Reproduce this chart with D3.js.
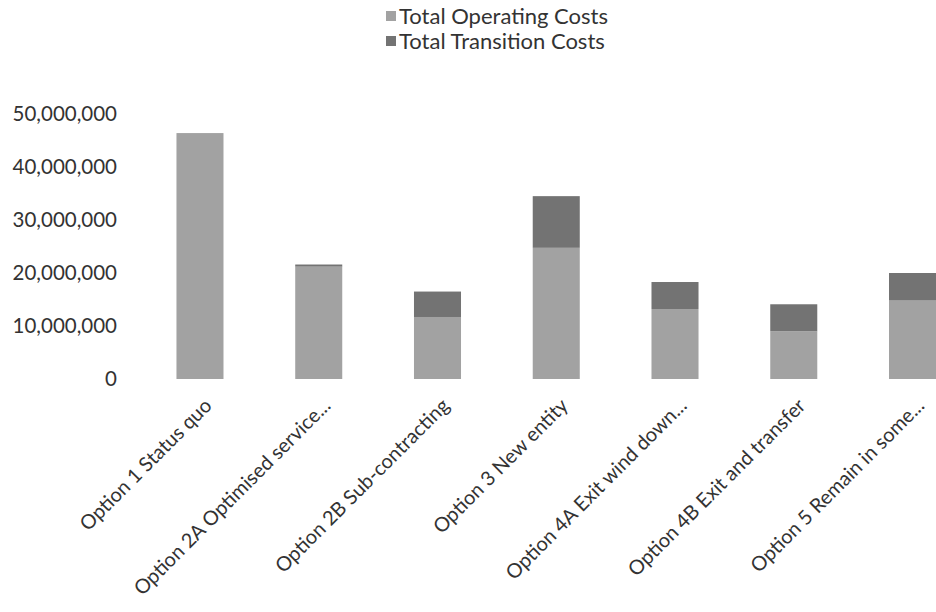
<!DOCTYPE html>
<html>
<head>
<meta charset="utf-8">
<script src="https://cdn.jsdelivr.net/npm/d3@7"></script>
<style>
  body { margin: 0; background: #fff; }
  svg { display: block; font-family: Lato, 'Open Sans', sans-serif; }
</style>
</head>
<body>
<svg></svg>
<script>
const options = ['Option 1 Status quo', 'Option 2A Optimised service...', 'Option 2B Sub-contracting',
  'Option 3 New entity', 'Option 4A Exit wind down...', 'Option 4B Exit and transfer', 'Option 5 Remain in some...']
const operatingCosts = [46400000, 21200000, 11700000, 24750000, 13200000, 9000000, 14800000]
const transitionCosts = [0, 400000, 4800000, 9750000, 5100000, 5100000, 5200000]
const seriesNames = ['Total Operating Costs', 'Total Transition Costs']
const yTicks = [0, 10000000, 20000000, 30000000, 40000000, 50000000]

const width = 936
const height = 612
const colors = ['#a2a2a2', '#737373']

const svg = d3.select('svg')
              .attr('width', width)
              .attr('height', height)

const xScale = d3.scaleBand()
                 .domain(options)
                 .range([140.6, 971.9])
                 .paddingInner(0.604)
                 .paddingOuter(0.302)

const yScale = d3.scaleLinear()
                 .domain([0, 50000000])
                 .range([379, 114])

const rows = options.map((o, i) => ({ option: o, operating: operatingCosts[i], transition: transitionCosts[i] }))
const stacked = d3.stack().keys(['operating', 'transition'])(rows)

svg.append('g')
   .selectAll('g')
   .data(stacked)
   .join('g')
   .attr('fill', (d, i) => colors[i])
   .selectAll('rect')
   .data(d => d)
   .join('rect')
   .attr('x', d => xScale(d.data.option))
   .attr('y', d => yScale(d[1]))
   .attr('width', xScale.bandwidth())
   .attr('height', d => yScale(d[0]) - yScale(d[1]))

const yAxis = d3.axisLeft(yScale)
                .tickValues(yTicks)
                .tickFormat(d3.format(','))
                .tickSize(0)
                .tickPadding(0)

svg.append('g')
   .attr('transform', 'translate(117, 0)')
   .call(yAxis)
   .call(g => g.select('.domain').remove())
   .selectAll('text')
   .attr('fill', '#333')
   .style('font-family', 'Lato, sans-serif')
   .style('font-size', '20.5px')

const xAxis = d3.axisBottom(xScale).tickSize(0).tickPadding(0)

svg.append('g')
   .attr('transform', 'translate(0, 379)')
   .call(xAxis)
   .call(g => g.select('.domain').remove())
   .selectAll('text')
   .attr('fill', '#333')
   .attr('text-anchor', 'end')
   .attr('dy', 0)
   .attr('transform', 'translate(13, 28) rotate(-45)')
   .style('font-family', 'Lato, sans-serif')
   .style('font-size', '20px')

const legend = svg.append('g')
                  .selectAll('g')
                  .data(seriesNames)
                  .join('g')
                  .attr('transform', (d, i) => `translate(386, ${16 + i * 25})`)

legend.append('rect')
      .attr('x', 0)
      .attr('y', -5)
      .attr('width', 10)
      .attr('height', 10)
      .attr('fill', (d, i) => colors[i])

legend.append('text')
      .text(d => d)
      .attr('x', 13)
      .attr('dy', '0.35em')
      .attr('fill', '#333')
      .style('font-size', '22px')
</script>
</body>
</html>
